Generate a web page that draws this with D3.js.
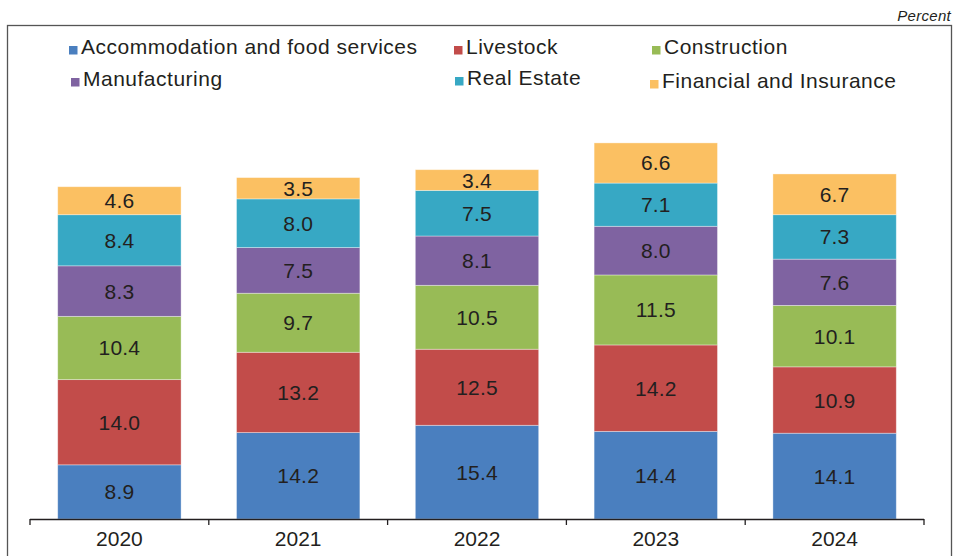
<!DOCTYPE html>
<html>
<head>
<meta charset="utf-8">
<script src="https://cdn.jsdelivr.net/npm/d3@7"></script>
<style>
  html, body { margin: 0; padding: 0; background: #fff; }
  svg { display: block; font-family: "Liberation Sans", Arial, Helvetica, sans-serif; }
</style>
</head>
<body>
<svg id="chart" width="957" height="556"></svg>
<script>
// Years on the category axis
const years = ["2020", "2021", "2022", "2023", "2024"];

// Series, stacked bottom to top (percent)
const seriesNames = [
  "Accommodation and food services",
  "Livestock",
  "Construction",
  "Manufacturing",
  "Real Estate",
  "Financial and Insurance"
];
const accommodation = [8.9, 14.2, 15.4, 14.4, 14.1];
const livestock     = [14.0, 13.2, 12.5, 14.2, 10.9];
const construction  = [10.4, 9.7, 10.5, 11.5, 10.1];
const manufacturing = [8.3, 7.5, 8.1, 8.0, 7.6];
const realEstate    = [8.4, 8.0, 7.5, 7.1, 7.3];
const financial     = [4.6, 3.5, 3.4, 6.6, 6.7];

const seriesValues = [accommodation, livestock, construction, manufacturing, realEstate, financial];
const colors = ["#4a7fbf", "#c24c4a", "#98bb56", "#7f63a1", "#37a8c4", "#fbc062"];

const rows = years.map((y, i) => {
  const r = { year: y };
  seriesNames.forEach((s, k) => { r[s] = seriesValues[k][i]; });
  return r;
});

const svg = d3.select("#chart");
const textColor = "#231f20";

// Outer frame
svg.append("rect")
  .attr("x", 7.5).attr("y", 25.5)
  .attr("width", 944).attr("height", 560)
  .attr("fill", "none").attr("stroke", "#555").attr("stroke-width", 1.3);

// Unit label
svg.append("text")
  .attr("x", 951).attr("y", 21)
  .attr("text-anchor", "end")
  .attr("font-size", 15).attr("font-style", "italic")
  .attr("letter-spacing", 0.3)
  .attr("fill", textColor)
  .text("Percent");

const x = d3.scaleBand().domain(years).range([30, 924]).paddingInner(0.31).paddingOuter(0.155);
const y = d3.scaleLinear().domain([0, 70]).range([519, 93]);

const stack = d3.stack().keys(seriesNames);
const layers = stack(rows);

const g = svg.append("g");
layers.forEach((layer, k) => {
  const lg = g.append("g");
  lg.selectAll("rect")
    .data(layer)
    .join("rect")
    .attr("x", d => x(d.data.year))
    .attr("y", d => y(d[1]))
    .attr("width", x.bandwidth())
    .attr("height", d => y(d[0]) - y(d[1]))
    .attr("fill", colors[k])
    .attr("stroke", "rgba(255,255,255,0.45)")
    .attr("stroke-width", 0.8);
  lg.selectAll("text")
    .data(layer)
    .join("text")
    .attr("x", d => x(d.data.year) + x.bandwidth() / 2)
    .attr("y", d => (y(d[0]) + y(d[1])) / 2 + 7.5)
    .attr("text-anchor", "middle")
    .attr("font-size", 21)
    .attr("letter-spacing", 0.2)
    .attr("fill", textColor)
    .text(d => d3.format(".1f")(d[1] - d[0]));
});

// Category axis with ticks between the bars
const axisG = svg.append("g");
axisG.append("line")
  .attr("x1", 30).attr("x2", 924).attr("y1", 519.5).attr("y2", 519.5)
  .attr("stroke", textColor).attr("stroke-width", 1.3);
const tickPos = d3.range(years.length + 1).map(i => 30 + i * (894 / years.length));
axisG.selectAll("line.tick")
  .data(tickPos)
  .join("line")
  .attr("class", "tick")
  .attr("x1", d => d).attr("x2", d => d)
  .attr("y1", 519).attr("y2", 525)
  .attr("stroke", textColor).attr("stroke-width", 1.3);
axisG.selectAll("text")
  .data(years)
  .join("text")
  .attr("x", d => x(d) + x.bandwidth() / 2)
  .attr("y", 546)
  .attr("text-anchor", "middle")
  .attr("font-size", 21)
  .attr("fill", textColor)
  .text(d => d);

// Legend: two rows of three entries
const legendPos = [
  { x: 69, y: 54 }, { x: 454, y: 54 }, { x: 652, y: 54 },
  { x: 71, y: 86 }, { x: 455, y: 85 }, { x: 650, y: 88 }
];
const legend = svg.append("g");
seriesNames.forEach((name, k) => {
  const p = legendPos[k];
  legend.append("rect")
    .attr("x", p.x).attr("y", p.y - 8)
    .attr("width", 8.5).attr("height", 8.5)
    .attr("fill", colors[k]);
  legend.append("text")
    .attr("x", p.x + 12).attr("y", p.y)
    .attr("font-size", 21)
    .attr("letter-spacing", 0.5)
    .attr("fill", textColor)
    .text(name);
});
</script>
</body>
</html>
